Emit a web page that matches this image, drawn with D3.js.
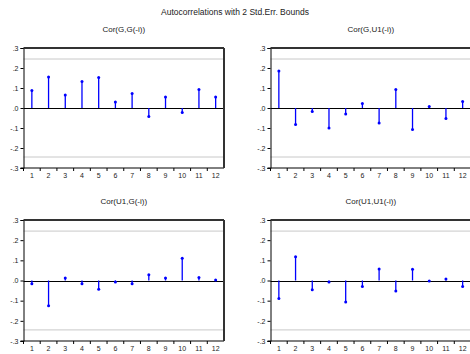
<!DOCTYPE html>
<html>
<head>
<meta charset="utf-8">
<script src="https://cdn.jsdelivr.net/npm/d3@7"></script>
<style>
  body { margin: 0; background: #fff; }
  svg { display: block; font-family: "Liberation Sans", Arial, sans-serif; }
</style>
</head>
<body>
<svg id="chart" width="470" height="354"></svg>
<script>
// Lags and cross-correlograms
const lags = [1, 2, 3, 4, 5, 6, 7, 8, 9, 10, 11, 12];
const corGG   = [0.088, 0.155, 0.065, 0.132, 0.152, 0.030, 0.073, -0.042, 0.055, -0.022, 0.092, 0.055];
const corGU1  = [0.185, -0.083, -0.018, -0.100, -0.030, 0.023, -0.075, 0.092, -0.107, 0.007, -0.052, 0.032];
const corU1G  = [-0.016, -0.125, 0.013, -0.016, -0.044, -0.007, -0.016, 0.028, 0.013, 0.110, 0.015, 0.003];
const corU1U1 = [-0.089, 0.118, -0.046, -0.008, -0.107, -0.030, 0.057, -0.052, 0.056, -0.002, 0.007, -0.030];
const panelTitles = ["Cor(G,G(-i))", "Cor(G,U1(-i))", "Cor(U1,G(-i))", "Cor(U1,U1(-i))"];
const seBound = 0.245;
const yTicks = [0.3, 0.2, 0.1, 0, -0.1, -0.2, -0.3];
const yTickLabels = [".3", ".2", ".1", ".0", "-.1", "-.2", "-.3"];
const chartTitle = "Autocorrelations with 2 Std.Err. Bounds";

const series = [corGG, corGU1, corU1G, corU1U1];
const svg = d3.select("#chart");

svg.append("text")
  .attr("x", 235).attr("y", 15)
  .attr("text-anchor", "middle")
  .attr("font-size", 8.5)
  .attr("fill", "#222")
  .text(chartTitle);

// Panel frames: [left, top, width, height]
const frames = [
  [23.5, 48, 200.5, 120],
  [270.5, 48, 200.5, 120],
  [23.5, 220, 200.5, 121],
  [270.5, 220, 200.5, 121]
];

frames.forEach((f, i) => {
  const [x0, y0, w, h] = f;
  const g = svg.append("g").attr("transform", `translate(${x0},${y0})`);
  const x = d3.scaleBand().domain(lags).range([0, w]);
  const y = d3.scaleLinear().domain([-0.3, 0.3]).range([h, 0]);

  // panel title
  g.append("text")
    .attr("x", w / 2).attr("y", -16)
    .attr("text-anchor", "middle")
    .attr("font-size", 8)
    .attr("fill", "#222")
    .text(panelTitles[i]);

  // standard error bounds
  g.selectAll("line.bound").data([seBound, -seBound]).join("line")
    .attr("class", "bound")
    .attr("x1", 0).attr("x2", w)
    .attr("y1", d => y(d)).attr("y2", d => y(d))
    .attr("stroke", "#c8c8c8").attr("stroke-width", 1);

  // zero line
  g.append("line")
    .attr("x1", 0).attr("x2", w)
    .attr("y1", Math.round(y(0)) + 0.5).attr("y2", Math.round(y(0)) + 0.5)
    .attr("stroke", "#000").attr("stroke-width", 1);

  // y axis
  const yAxis = d3.axisLeft(y).tickValues(yTicks)
    .tickFormat((d, k) => yTickLabels[k]).tickSize(3).tickPadding(2);
  const ya = g.append("g").call(yAxis);
  ya.select(".domain").attr("stroke", "#000");
  ya.selectAll("text").attr("font-size", 7).attr("fill", "#222")
    .attr("font-family", "Liberation Sans, Arial, sans-serif");

  // x axis: ticks at band edges, pointing down
  const xa = g.append("g").attr("transform", `translate(0,${h})`);
  xa.append("line").attr("x1", -3).attr("x2", w).attr("y1", 0).attr("y2", 0)
    .attr("stroke", "#000");
  xa.selectAll("line.tk").data(lags).join("line")
    .attr("class", "tk")
    .attr("x1", d => x(d)).attr("x2", d => x(d))
    .attr("y1", 0).attr("y2", 3)
    .attr("stroke", "#000");
  xa.selectAll("text").data(lags).join("text")
    .attr("x", d => x(d) + x.bandwidth() / 2)
    .attr("y", 10)
    .attr("text-anchor", "middle")
    .attr("font-size", 7)
    .attr("fill", "#222")
    .text(d => d);

  // top and right frame
  g.append("line").attr("x1", 0).attr("x2", w).attr("y1", 0).attr("y2", 0)
    .attr("stroke", "#333").attr("stroke-width", 2);
  g.append("line").attr("x1", w).attr("x2", w).attr("y1", 0).attr("y2", h)
    .attr("stroke", "#333").attr("stroke-width", 2);

  // stems
  const data = series[i].map((v, k) => ({ lag: lags[k], v }));
  g.selectAll("line.stem").data(data).join("line")
    .attr("class", "stem")
    .attr("x1", d => x(d.lag) + x.bandwidth() / 2)
    .attr("x2", d => x(d.lag) + x.bandwidth() / 2)
    .attr("y1", y(0)).attr("y2", d => y(d.v))
    .attr("stroke", "#0000ff").attr("stroke-width", 1.3);
  g.selectAll("circle.pt").data(data).join("circle")
    .attr("class", "pt")
    .attr("cx", d => x(d.lag) + x.bandwidth() / 2)
    .attr("cy", d => y(d.v))
    .attr("r", 1.5)
    .attr("fill", "#0000ff");
});
</script>
</body>
</html>
